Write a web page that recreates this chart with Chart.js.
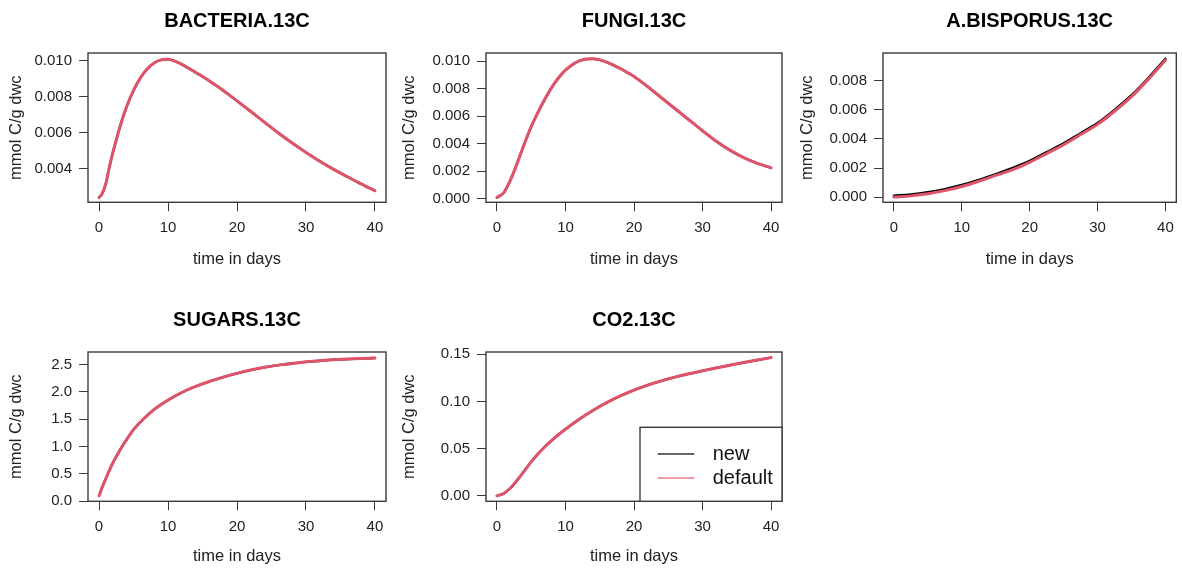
<!DOCTYPE html>
<html>
<head>
<meta charset="utf-8">
<script src="https://cdn.jsdelivr.net/npm/chart.js@4.4.1/dist/chart.umd.min.js"></script>
<style>
html,body{margin:0;padding:0;background:#fff;}
#wrap{position:relative;width:1182px;height:570px;overflow:hidden;}
#wrap canvas{position:absolute;left:0;top:0;}
</style>
</head>
<body>
<div id="wrap"></div>
<script>
// ---------- data ----------
const dayTicks = [0, 10, 20, 30, 40];
const dayTickLabels = ['0', '10', '20', '30', '40'];

const bacteriaTime = [0,0.5,1,1.5,2,2.5,3,4,5,6,7,8,9,10,11,12,13,14,15,16,17,18,19,20,22,24,26,28,30,32,34,36,38,40];
const bacteria = [0.00240,0.00265,0.00320,0.00410,0.00490,0.00560,0.00630,0.00745,0.00835,0.00905,0.00955,0.00988,0.01005,0.01008,0.00998,0.00980,0.00958,0.00935,0.00912,0.00888,0.00862,0.00835,0.00806,0.00777,0.00718,0.00658,0.00599,0.00543,0.00491,0.00442,0.00397,0.00356,0.00316,0.00278];
const bacteriaTicks = [0.004, 0.006, 0.008, 0.010];
const bacteriaTickLabels = ['0.004', '0.006', '0.008', '0.010'];

const fungiTime = [0,1,2,3,4,5,6,7,8,9,10,11,12,13,14,15,16,17,18,19,20,22,24,26,28,30,32,34,36,38,40];
const fungi = [0.00010,0.00045,0.00140,0.00265,0.00400,0.00525,0.00630,0.00725,0.00810,0.00880,0.00935,0.00975,0.01002,0.01016,0.01018,0.01010,0.00994,0.00972,0.00947,0.00919,0.00890,0.00815,0.00735,0.00655,0.00575,0.00495,0.00419,0.00354,0.00300,0.00258,0.00225];
const fungiTicks = [0, 0.002, 0.004, 0.006, 0.008, 0.010];
const fungiTickLabels = ['0.000', '0.002', '0.004', '0.006', '0.008', '0.010'];

const bisporusTime = [0,2.5,5,7.5,10,12.5,15,17.5,20,22.5,25,27.5,30,32.5,35,37.5,40];
const bisporusNew = [0.00012,0.0002,0.00035,0.00057,0.00085,0.0012,0.0016,0.00203,0.0025,0.0031,0.0037,0.0044,0.0051,0.0060,0.0070,0.0082,0.0095];
const bisporusDefault = [0.00002,0.0001,0.00024,0.00046,0.00074,0.0011,0.0015,0.0019,0.0024,0.0030,0.0036,0.0043,0.0050,0.0059,0.0069,0.0081,0.0094];
const bisporusTicks = [0, 0.002, 0.004, 0.006, 0.008];
const bisporusTickLabels = ['0.000', '0.002', '0.004', '0.006', '0.008'];

const sugarsTime = [0,0.5,1,1.5,2,3,4,5,6,7,8,9,10,12,14,16,18,20,22,24,26,28,30,32,34,36,38,40];
const sugars = [0.10,0.27,0.42,0.565,0.70,0.93,1.13,1.31,1.45,1.57,1.68,1.77,1.85,1.99,2.10,2.19,2.27,2.34,2.40,2.45,2.49,2.52,2.55,2.57,2.59,2.60,2.61,2.62];
const sugarsTicks = [0, 0.5, 1.0, 1.5, 2.0, 2.5];
const sugarsTickLabels = ['0.0', '0.5', '1.0', '1.5', '2.0', '2.5'];

const co2Time = [0,1,2,3,4,5,6,7,8,9,10,12,14,16,18,20,22,24,26,28,30,32,34,36,38,40];
const co2 = [0,0.0025,0.0085,0.0170,0.0265,0.0360,0.0445,0.0520,0.0588,0.0650,0.0706,0.0812,0.0905,0.0987,0.1058,0.1120,0.1173,0.1218,0.1258,0.1293,0.1325,0.1355,0.1384,0.1412,0.1439,0.1465];
const co2Ticks = [0, 0.05, 0.10, 0.15];
const co2TickLabels = ['0.00', '0.05', '0.10', '0.15'];

const seriesNames = ['new', 'default'];
const seriesColors = ['#000000', '#DF536B'];

// ---------- layout / style ----------
const FONT = "'Liberation Sans', Arial, Helvetica, sans-serif";
const W = 1182, H = 570;
const TICK_SIZE = 15, LAB_SIZE = 16.5, MAIN_SIZE = 20;

const panels = [
  {title:'BACTERIA.13C', time:bacteriaTime, vNew:bacteria, vDef:bacteria, yT:bacteriaTicks, yL:bacteriaTickLabels,
   yMin:0.00214, yMax:0.01043, box:[88,53,386,202.3], yTitleX:16.7, xTitleY:259.3, titleY:21.7, legend:false},
  {title:'FUNGI.13C', time:fungiTime, vNew:fungi, vDef:fungi, yT:fungiTicks, yL:fungiTickLabels,
   yMin:-0.00025, yMax:0.0106, box:[486,53,782,202.3], yTitleX:409, xTitleY:259.3, titleY:21.7, legend:false},
  {title:'A.BISPORUS.13C', time:bisporusTime, vNew:bisporusNew, vDef:bisporusDefault, yT:bisporusTicks, yL:bisporusTickLabels,
   yMin:-0.00034, yMax:0.00989, box:[883,53,1179,202.3], yTitleX:807.5, xTitleY:259.3, titleY:21.7, legend:false},
  {title:'SUGARS.13C', time:sugarsTime, vNew:sugars, vDef:sugars, yT:sugarsTicks, yL:sugarsTickLabels,
   yMin:0, yMax:2.73, box:[88,352,386,501.3], yTitleX:16.7, xTitleY:556.7, titleY:320, legend:false},
  {title:'CO2.13C', time:co2Time, vNew:co2, vDef:co2, yT:co2Ticks, yL:co2TickLabels,
   yMin:-0.0058, yMax:0.1524, box:[486,352,782,501.3], yTitleX:409, xTitleY:556.7, titleY:320, legend:true}
];

const boxPlugin = {
  id: 'rbox',
  afterDatasetsDraw(chart) {
    const ca = chart.chartArea, ctx = chart.ctx;
    ctx.save();
    ctx.strokeStyle = '#3a3a3a';
    ctx.lineWidth = 1.4;
    ctx.strokeRect(ca.left, ca.top, ca.right - ca.left, ca.bottom - ca.top);
    ctx.restore();
  }
};

const legendPlugin = {
  id: 'rlegend',
  afterDraw(chart, args, opts) {
    if (!opts || !opts.show) return;
    const ca = chart.chartArea, ctx = chart.ctx;
    const w = 142, h = 74;
    const x0 = ca.right - w, y0 = ca.bottom - h;
    ctx.save();
    ctx.fillStyle = '#fff';
    ctx.fillRect(x0, y0, w, h);
    ctx.strokeStyle = '#3a3a3a';
    ctx.lineWidth = 1.4;
    ctx.strokeRect(x0, y0, w, h);
    ctx.font = '20px ' + FONT;
    ctx.textBaseline = 'middle';
    ctx.textAlign = 'left';
    chart.data.datasets.forEach((ds, i) => {
      const y = Math.round(y0 + 26.6 + i * 24);
      ctx.strokeStyle = ds.borderColor;
      ctx.globalAlpha = i === 0 ? 0.8 : 0.75;
      ctx.lineWidth = 1.6;
      ctx.beginPath();
      ctx.moveTo(x0 + 17.7, y);
      ctx.lineTo(x0 + 54.3, y);
      ctx.stroke();
      ctx.globalAlpha = 1;
      ctx.fillStyle = '#111';
      ctx.fillText(ds.label, x0 + 72.7, y);
    });
    ctx.restore();
  }
};

const wrap = document.getElementById('wrap');

function makePanel(p) {
  const c = document.createElement('canvas');
  c.width = W; c.height = H;
  c.style.width = W + 'px'; c.style.height = H + 'px';
  wrap.appendChild(c);
  const [L, T, R, B] = p.box;
  const labHalf = LAB_SIZE * 1.2 / 2;
  const WY = L - p.yTitleX + labHalf;
  const HX = p.xTitleY + labHalf - B;
  const mainLH = MAIN_SIZE * 1.2;
  const padTop = p.titleY - 20;
  const mainPadTop = 20 - mainLH / 2;
  const mainPadBottom = T - (padTop + mainPadTop + mainLH);
  const toPts = (vals) => p.time.map((t, i) => ({x: t, y: vals[i]}));

  new Chart(c, {
    type: 'line',
    data: {
      datasets: [
        {label: seriesNames[0], data: toPts(p.vNew), borderColor: seriesColors[0], borderWidth: 2.3, order: 1},
        {label: seriesNames[1], data: toPts(p.vDef), borderColor: seriesColors[1], borderWidth: 3, order: 0}
      ]
    },
    options: {
      responsive: false,
      animation: false,
      devicePixelRatio: 1,
      events: [],
      layout: {autoPadding: false, padding: {left: L - WY, right: W - R, top: padTop, bottom: H - B - HX}},
      elements: {
        point: {radius: 0},
        line: {cubicInterpolationMode: 'monotone', fill: false, borderCapStyle: 'round', borderJoinStyle: 'round'}
      },
      plugins: {
        legend: {display: false},
        tooltip: {enabled: false},
        title: {
          display: true, text: p.title, fullSize: false, color: '#000',
          font: {family: FONT, size: MAIN_SIZE, weight: 'bold', lineHeight: 1.2},
          padding: {top: mainPadTop, bottom: mainPadBottom}
        },
        rlegend: {show: p.legend}
      },
      scales: {
        x: {
          type: 'linear', position: 'bottom', min: -1.6, max: 41.6,
          afterBuildTicks: (s) => { s.ticks = dayTicks.map(v => ({value: v})); },
          afterFit: (s) => { s.height = HX; },
          grid: {drawOnChartArea: false, drawTicks: true, tickLength: 9, color: '#3a3a3a', lineWidth: 1},
          border: {display: false},
          ticks: {autoSkip: false, maxRotation: 0, minRotation: 0, padding: 8, color: '#222',
                  font: {family: FONT, size: TICK_SIZE, lineHeight: 1.2},
                  callback: (v, i) => dayTickLabels[i]},
          title: {display: true, text: 'time in days', color: '#222', padding: 0,
                  font: {family: FONT, size: LAB_SIZE, lineHeight: 1.2}}
        },
        y: {
          type: 'linear', position: 'left', min: p.yMin, max: p.yMax,
          afterBuildTicks: (s) => { s.ticks = p.yT.map(v => ({value: v})); },
          afterFit: (s) => { s.width = WY; },
          grid: {drawOnChartArea: false, drawTicks: true, tickLength: 9, color: '#3a3a3a', lineWidth: 1},
          border: {display: false},
          ticks: {autoSkip: false, padding: 7, color: '#222',
                  font: {family: FONT, size: TICK_SIZE, lineHeight: 1.2},
                  callback: (v, i) => p.yL[i]},
          title: {display: true, text: 'mmol C/g dwc', color: '#222', padding: 0,
                  font: {family: FONT, size: LAB_SIZE, lineHeight: 1.2}}
        }
      }
    },
    plugins: [boxPlugin, legendPlugin]
  });
}

panels.forEach(makePanel);
</script>
</body>
</html>
